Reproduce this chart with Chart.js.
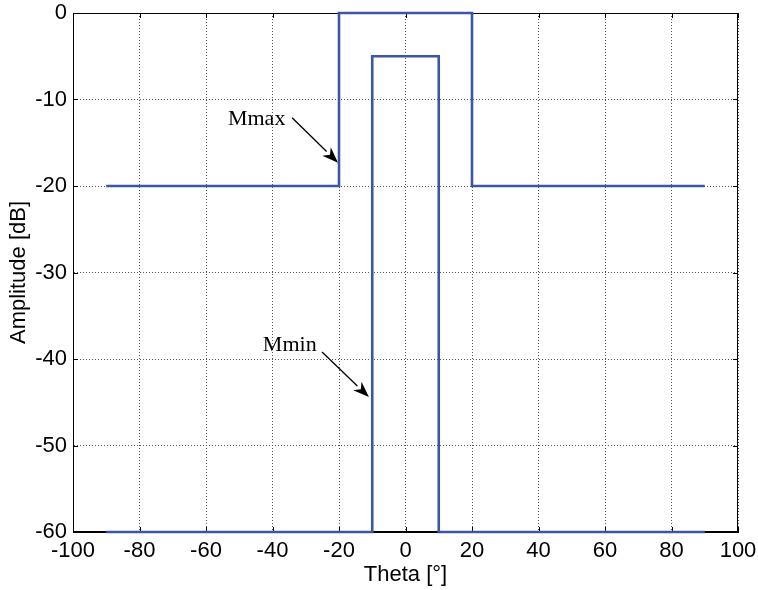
<!DOCTYPE html>
<html>
<head>
<meta charset="utf-8">
<script src="https://cdn.jsdelivr.net/npm/chart.js@4/dist/chart.umd.min.js"></script>
<style>
  html, body { margin: 0; padding: 0; background: #fff; }
  #wrap { width: 758px; height: 590px; }
</style>
</head>
<body>
<div id="wrap"><canvas id="c"></canvas></div>
<script>
// === Data ===
const thetaMax = [-90, -20, -20, 20, 20, 90];
const ampMax   = [-20, -20,   0,  0, -20, -20];
const thetaMin = [-90, -10, -10, 10, 10, 90];
const ampMin   = [-60, -60,  -5, -5, -60, -60];

const xTicks = [-100, -80, -60, -40, -20, 0, 20, 40, 60, 80, 100];
const yTicks = [-60, -50, -40, -30, -20, -10, 0];

// labels with arrows: [text, textX, textY(baseline), fromX, fromY, tipX, tipY] in data units
const notes = [
  ["Mmax", -53.4, -12.9, -34.1, -12.1, -20.3, -17.3],
  ["Mmin", -42.9, -39.1, -25.1, -39.2, -11.0, -44.4]
];

const lineColor = "#3d55a6";
const toPts = (xs, ys) => xs.map((x, i) => ({ x: x, y: ys[i] }));

// box round the plot + inward tick marks
const framePlugin = {
  id: "frame",
  beforeDatasetsDraw(chart) {
    const { ctx, chartArea: a, scales } = chart;
    ctx.save();
    ctx.strokeStyle = "#000";
    ctx.lineWidth = 1;
    ctx.strokeRect(a.left + 0.5, a.top + 0.5, a.right - a.left - 1, a.bottom - a.top - 1);
    ctx.beginPath();
    xTicks.forEach(v => {
      const px = Math.round(scales.x.getPixelForValue(v)) + 0.5;
      ctx.moveTo(px, a.bottom); ctx.lineTo(px, a.bottom - 5);
      ctx.moveTo(px, a.top); ctx.lineTo(px, a.top + 5);
    });
    yTicks.forEach(v => {
      const py = Math.round(scales.y.getPixelForValue(v)) + 0.5;
      ctx.moveTo(a.left, py); ctx.lineTo(a.left + 5, py);
      ctx.moveTo(a.right, py); ctx.lineTo(a.right - 5, py);
    });
    ctx.stroke();
    ctx.restore();
  },
  afterDatasetsDraw(chart) {
    const { ctx, scales } = chart;
    const X = v => scales.x.getPixelForValue(v);
    const Y = v => scales.y.getPixelForValue(v);
    ctx.save();
    ctx.fillStyle = "#000";
    ctx.strokeStyle = "#000";
    ctx.font = "22px 'Liberation Serif', 'Times New Roman', serif";
    ctx.textBaseline = "alphabetic";
    ctx.textAlign = "left";
    notes.forEach(n => {
      ctx.fillText(n[0], X(n[1]), Y(n[2]));
      const x0 = X(n[3]), y0 = Y(n[4]), x1 = X(n[5]), y1 = Y(n[6]);
      const ang = Math.atan2(y1 - y0, x1 - x0);
      const len = 16, hw = 6;
      const bx = x1 - len * Math.cos(ang), by = y1 - len * Math.sin(ang);
      ctx.lineWidth = 1.3;
      ctx.beginPath();
      ctx.moveTo(x0, y0);
      ctx.lineTo(bx, by);
      ctx.stroke();
      // arrow head (slightly notched)
      const nx = -Math.sin(ang), ny = Math.cos(ang);
      const mx = x1 - len * 0.7 * Math.cos(ang), my = y1 - len * 0.7 * Math.sin(ang);
      ctx.beginPath();
      ctx.moveTo(x1, y1);
      ctx.lineTo(bx + nx * hw, by + ny * hw);
      ctx.lineTo(mx, my);
      ctx.lineTo(bx - nx * hw, by - ny * hw);
      ctx.closePath();
      ctx.fill();
    });
    ctx.restore();
  }
};

const tickFont = { family: "'Liberation Sans', Arial, sans-serif", size: 22 };

new Chart(document.getElementById("c"), {
  type: "scatter",
  data: {
    datasets: [
      { label: "Mmax", data: toPts(thetaMax, ampMax) },
      { label: "Mmin", data: toPts(thetaMin, ampMin) }
    ].map(d => Object.assign(d, {
      showLine: true,
      borderColor: lineColor,
      borderWidth: 2.6,
      pointRadius: 0,
      fill: false,
      tension: 0,
      clip: 6
    }))
  },
  options: {
    responsive: true,
    maintainAspectRatio: false,
    animation: false,
    layout: { padding: { left: 0, top: 13, right: 20, bottom: 0 } },
    plugins: {
      legend: { display: false },
      tooltip: { enabled: false }
    },
    scales: {
      x: {
        type: "linear",
        min: -100, max: 100,
        afterBuildTicks: s => { s.ticks = xTicks.map(v => ({ value: v })); },
        afterFit: s => { s.height = 58; s.paddingLeft = 0; s.paddingRight = 0; },
        ticks: { font: tickFont, color: "#000", padding: 6, maxRotation: 0, autoSkip: false },
        grid: { color: "#555", lineWidth: 1, drawTicks: false },
        border: { color: "#000", width: 1, dash: [1, 2] },
        title: {
          display: true, text: "Theta [°]", color: "#000",
          font: tickFont, padding: { top: 0, bottom: 2 }
        }
      },
      y: {
        type: "linear",
        min: -60, max: 0,
        afterBuildTicks: s => { s.ticks = yTicks.map(v => ({ value: v })); },
        afterFit: s => { s.width = 73; s.paddingTop = 0; s.paddingBottom = 0; },
        ticks: { font: tickFont, color: "#000", padding: 6, autoSkip: false },
        grid: { color: "#555", lineWidth: 1, drawTicks: false },
        border: { color: "#000", width: 1, dash: [1, 2] },
        title: {
          display: true, text: "Amplitude [dB]", color: "#000",
          font: tickFont, padding: { top: 6, bottom: 0 }
        }
      }
    }
  },
  plugins: [framePlugin]
});
</script>
</body>
</html>
